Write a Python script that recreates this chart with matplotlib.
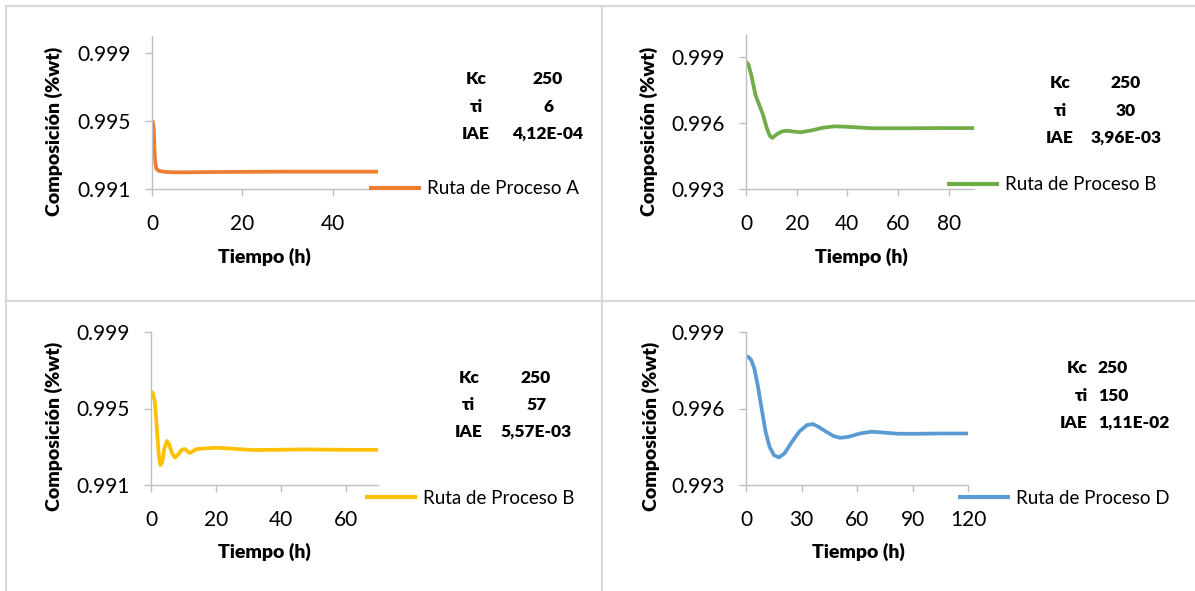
import matplotlib
matplotlib.use("Agg")
import matplotlib.pyplot as plt
from matplotlib.lines import Line2D

plt.rcParams['font.family'] = ['Lato', 'DejaVu Sans']

W, H = 1195, 591

# ---- route A ----
t_a = [0, 0.2, 0.4, 0.6, 0.8, 1.0, 1.5, 2.5, 4, 6, 10, 20, 30, 40, 50]
c_a = [0.99500, 0.99495, 0.99450, 0.99300, 0.99240, 0.99218, 0.99207, 0.99202,
       0.99199, 0.99198, 0.99199, 0.99201, 0.99202, 0.99202, 0.99202]

# ---- route B ----
t_b = [0, 1.0, 2.2, 3.7, 5.2, 6.7, 8.2, 9.4, 10.4, 11.9, 14.2, 16.4, 18.7, 21.6,
       26.1, 30.6, 35.1, 39.6, 45.5, 50, 62, 76.9, 90]
c_b = [0.99879, 0.99865, 0.99812, 0.99729, 0.99683, 0.99638, 0.99577, 0.99542,
       0.99532, 0.99547, 0.99562, 0.99565, 0.99561, 0.99558, 0.99567, 0.99579,
       0.99585, 0.99583, 0.99579, 0.99576, 0.99576, 0.99577, 0.99577]

# ---- route "B" (second tuning) ----
t_c = [0, 0.5, 1.2, 1.8, 2.4, 2.9, 3.5, 4.1, 4.9, 5.6, 6.5, 7.4, 8.4, 9.4, 10.4,
       11.2, 12.0, 12.9, 14.1, 16.5, 20, 24.1, 31.2, 38.2, 47.6, 59.4, 70]
c_c = [0.99587, 0.99583, 0.99535, 0.99396, 0.99257, 0.99204, 0.99222, 0.99291,
       0.99330, 0.99312, 0.99265, 0.99243, 0.99260, 0.99283, 0.99288, 0.99277,
       0.99267, 0.99277, 0.99288, 0.99291, 0.99295, 0.99291, 0.99283, 0.99284,
       0.99286, 0.99284, 0.99284]

# ---- route D ----
t_d = [0, 1.4, 2.9, 4.5, 6.5, 8.6, 10.6, 12.7, 15.1, 17.8, 20.8, 24.9, 29, 33,
       36.1, 39.2, 43.3, 47.3, 50.8, 55.5, 61.6, 67.8, 73.9, 82, 94.3, 104.5, 120]
c_d = [0.99805, 0.99802, 0.99789, 0.99757, 0.99685, 0.99593, 0.99509, 0.99450,
       0.99417, 0.99408, 0.99424, 0.99470, 0.99511, 0.99535, 0.99539, 0.99528,
       0.99509, 0.99492, 0.99485, 0.99489, 0.99502, 0.99509, 0.99506, 0.99501,
       0.99501, 0.99502, 0.99502]

labels = ["Ruta de Proceso A", "Ruta de Proceso B", "Ruta de Proceso B", "Ruta de Proceso D"]
colors = ["#ED7D31", "#70AD47", "#FFC000", "#5B9BD5"]
xlims = [50, 90, 70, 120]
xticks = [[0, 20, 40], [0, 20, 40, 60, 80], [0, 20, 40, 60], [0, 30, 60, 90, 120]]
ylims = [(0.991, 1.000), (0.993, 1.000), (0.991, 0.999), (0.993, 0.999)]
yticks = [[0.991, 0.995, 0.999], [0.993, 0.996, 0.999],
          [0.991, 0.995, 0.999], [0.993, 0.996, 0.999]]
kc = ["250", "250", "250", "250"]
tau_i = ["6", "30", "57", "150"]
iae = ["4,12E-04", "3,96E-03", "5,57E-03", "1,11E-02"]
series = [(t_a, c_a), (t_b, c_b), (t_c, c_c), (t_d, c_d)]

# pixel layout of each panel: axes box (left, top, right, bottom)
boxes = [(152, 36, 378, 189), (746, 35, 974, 189),
         (151, 332, 378, 485), (746, 332, 968, 485)]
legend_pos = [(369, 189), (947, 185), (365, 498), (958, 498)]
ylab_pos = [(54, 131), (649, 131), (54, 426), (651, 426)]
xlab_pos = [(264, 257), (861, 257), (264, 552), (858, 552)]
table_rows = [(79, 107, 134), (83, 111, 138), (378, 405, 432), (368, 396, 423)]
table_cols = [(476, 548), (1060, 1126), (469, 536), None]

fig = plt.figure(figsize=(W / 100, H / 100), dpi=100)

def fx(px):
    return px / W

def fy(py):
    return 1 - py / H

# light gray panel frame
grid_col = "#D9D9D9"
fig.add_artist(Line2D([fx(6), fx(6)], [0, fy(6)], color=grid_col, lw=1.6))
fig.add_artist(Line2D([fx(6), 1], [fy(6), fy(6)], color=grid_col, lw=1.6))
fig.add_artist(Line2D([fx(602), fx(602)], [0, fy(6)], color=grid_col, lw=1.6))
fig.add_artist(Line2D([fx(6), 1], [fy(301), fy(301)], color=grid_col, lw=1.6))

axis_col = "#BFBFBF"
bold = dict(fontweight="heavy")
for i in range(4):
    l, t, r, b = boxes[i]
    ax = fig.add_axes([fx(l), fy(b), fx(r) - fx(l), fy(t) - fy(b)])
    tt, cc = series[i]
    ax.plot(tt, cc, color=colors[i], lw=2.7, solid_joinstyle="round",
            solid_capstyle="butt", label=labels[i])
    ax.set_xlim(0, xlims[i])
    ax.set_ylim(*ylims[i])
    ax.set_xticks(xticks[i])
    ax.set_yticks(yticks[i])
    ax.set_yticklabels([f"{v:.3f}" for v in yticks[i]])
    for s in ["top", "right"]:
        ax.spines[s].set_visible(False)
    for s in ["left", "bottom"]:
        ax.spines[s].set_color(axis_col)
        ax.spines[s].set_linewidth(1.0)
    ax.tick_params(axis="both", colors=axis_col, length=5, width=1.0,
                   labelcolor="black", labelsize=15)
    ax.tick_params(axis="y", pad=10)
    ax.tick_params(axis="x", pad=13)
    ax.patch.set_visible(False)

    lx, ly = legend_pos[i]
    leg = ax.legend(loc="center left", bbox_to_anchor=(fx(lx), fy(ly)),
                    bbox_transform=fig.transFigure, frameon=False, fontsize=13.5,
                    handlelength=2.75, handletextpad=0.35, borderpad=0,
                    borderaxespad=0)
    for h in leg.get_lines():
        h.set_linewidth(3.0)

    x0, y0 = ylab_pos[i]
    fig.text(fx(x0), fy(y0), "Composición (%wt)", rotation=90, ha="center",
             va="center", fontsize=14, **bold)
    x0, y0 = xlab_pos[i]
    fig.text(fx(x0), fy(y0), "Tiempo (h)", ha="center", va="center",
             fontsize=14, **bold)

    rows = table_rows[i]
    names = ["Kc", "τi", "IAE"]
    vals = [kc[i], tau_i[i], iae[i]]
    for k in range(3):
        if table_cols[i] is None:
            fig.text(fx(1088), fy(rows[k]), names[k], ha="right", va="center",
                     fontsize=12.5, **bold)
            fig.text(fx(1098), fy(rows[k]), vals[k], ha="left", va="center",
                     fontsize=12.5, **bold)
        else:
            c1, c2 = table_cols[i]
            fig.text(fx(c1), fy(rows[k]), names[k], ha="center", va="center",
                     fontsize=12.5, **bold)
            fig.text(fx(c2), fy(rows[k]), vals[k], ha="center", va="center",
                     fontsize=12.5, **bold)

fig.savefig("out.png", dpi=100)
